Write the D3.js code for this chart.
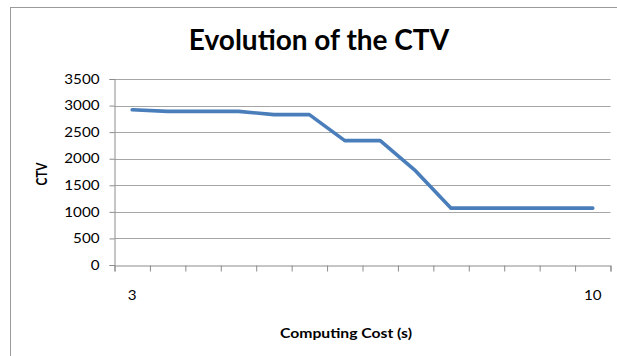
<!DOCTYPE html>
<html>
<head>
<meta charset="utf-8">
<script src="https://cdn.jsdelivr.net/npm/d3@7/dist/d3.min.js"></script>
<style>
  html, body { margin: 0; padding: 0; background: #ffffff; }
  svg { display: block; }
  text { font-family: Lato, "Open Sans", sans-serif; fill: #000; }
</style>
</head>
<body>
<svg id="chart" width="617" height="356"></svg>
<script>
// Computing cost steps (14 categories) and the CTV reached at each step
const categories = [1, 2, 3, 4, 5, 6, 7, 8, 9, 10, 11, 12, 13, 14];
const tickLabels = ["3", "", "", "", "", "", "", "", "", "", "", "", "", "10"];
const ctvValues = [2920, 2890, 2890, 2890, 2830, 2830, 2340, 2340, 1770, 1070, 1070, 1070, 1070, 1070];
const yTicks = [0, 500, 1000, 1500, 2000, 2500, 3000, 3500];

const title = "Evolution of the CTV";
const xTitle = "Computing Cost (s)";
const yTitle = "CTV";

const svg = d3.select("#chart");

// digits are drawn a little wider than the font's natural width
const digitWidth = 8.8;

// chart frame (runs past the right and bottom edges)
svg.append("rect")
  .attr("x", 10.5).attr("y", 7.5)
  .attr("width", 800).attr("height", 500)
  .attr("fill", "#fff")
  .attr("stroke", "#9a9a9a").attr("stroke-width", 1);

const plot = { left: 114.5, right: 610.5, top: 79, bottom: 265 };

const x = d3.scaleBand()
  .domain(categories)
  .range([plot.left, plot.right])
  .padding(0);

const xEdges = d3.scaleLinear()
  .domain([0, categories.length])
  .range([plot.left, plot.right]);

const y = d3.scaleLinear()
  .domain([0, 3500])
  .range([plot.bottom, plot.top]);

// horizontal gridlines
svg.append("g")
  .selectAll("line")
  .data(yTicks.filter(d => d > 0))
  .join("line")
  .attr("x1", plot.left).attr("x2", plot.right)
  .attr("y1", d => Math.round(y(d)) + 0.5)
  .attr("y2", d => Math.round(y(d)) + 0.5)
  .attr("stroke", "#a6a6a6").attr("stroke-width", 1.2);

// y axis
const yAxis = svg.append("g")
  .attr("transform", `translate(${plot.left},0)`)
  .call(d3.axisLeft(y).tickValues(yTicks).tickSize(5).tickPadding(10).tickFormat(d3.format("d")));
yAxis.select(".domain").attr("stroke", "#8c8c8c");
yAxis.selectAll(".tick line").attr("stroke", "#8c8c8c");
yAxis.selectAll(".tick text")
  .attr("font-family", "Lato, sans-serif")
  .attr("font-size", 13)
  .attr("fill", "#000")
  .attr("textLength", d => String(d).length * digitWidth)
  .attr("lengthAdjust", "spacingAndGlyphs");

// x axis: tick marks at category boundaries
const xAxis = svg.append("g")
  .attr("transform", `translate(0,${Math.round(y(0)) + 0.5})`)
  .call(d3.axisBottom(xEdges).tickValues(d3.range(categories.length + 1)).tickSize(6).tickFormat(""));
xAxis.select(".domain").attr("stroke", "#8c8c8c");
xAxis.selectAll(".tick line").attr("stroke", "#8c8c8c");

// category labels centred under their category
svg.append("g")
  .selectAll("text")
  .data(categories.map((c, i) => ({ c, label: tickLabels[i] })).filter(d => d.label !== ""))
  .join("text")
  .attr("x", d => x(d.c) + x.bandwidth() / 2)
  .attr("y", 300)
  .attr("text-anchor", "middle")
  .attr("font-size", 13.5)
  .attr("textLength", d => d.label.length * digitWidth)
  .attr("lengthAdjust", "spacingAndGlyphs")
  .text(d => d.label);

// CTV line
const line = d3.line()
  .x((d, i) => x(categories[i]) + x.bandwidth() / 2)
  .y(d => y(d));

svg.append("path")
  .datum(ctvValues)
  .attr("d", line)
  .attr("fill", "none")
  .attr("stroke", "#4a7ebb")
  .attr("stroke-width", 3.6)
  .attr("stroke-linejoin", "round")
  .attr("stroke-linecap", "round");

// titles
svg.append("text")
  .attr("x", 319).attr("y", 50)
  .attr("text-anchor", "middle")
  .attr("font-weight", "bold")
  .attr("font-size", 28)
  .text(title);

svg.append("text")
  .attr("x", 346).attr("y", 337.5)
  .attr("text-anchor", "middle")
  .attr("font-weight", "bold")
  .attr("font-size", 13.5)
  .attr("textLength", 132)
  .attr("lengthAdjust", "spacingAndGlyphs")
  .text(xTitle);

svg.append("text")
  .attr("transform", "translate(47,174) rotate(-90)")
  .attr("text-anchor", "middle")
  .attr("font-weight", "bold")
  .attr("font-size", 14.5)
  .attr("textLength", 23)
  .attr("lengthAdjust", "spacingAndGlyphs")
  .text(yTitle);
</script>
</body>
</html>
